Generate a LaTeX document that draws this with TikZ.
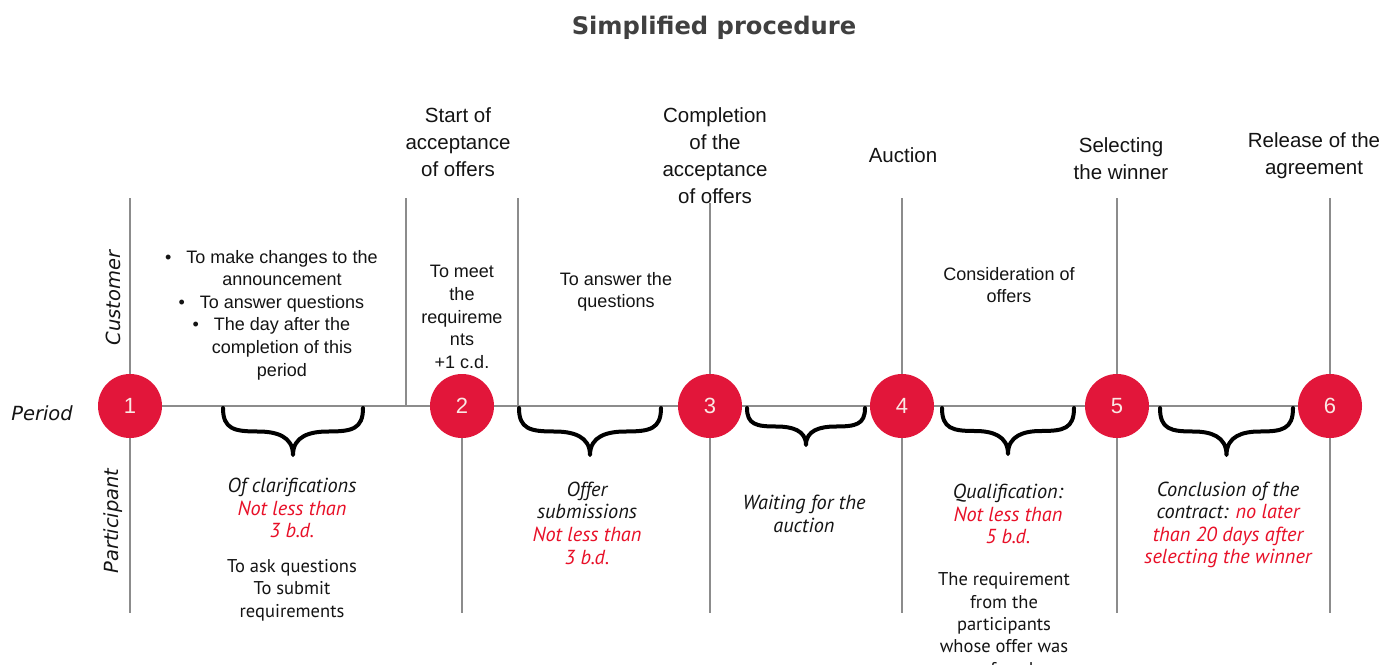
\documentclass[tikz,border=0pt]{standalone}
\usepackage{fontspec}
\setmainfont{Liberation Sans}
\newfontfamily\titlef{DejaVu Sans}
\newfontfamily\lowf{PT Sans}
\newfontfamily\labf{DejaVu Sans}
\definecolor{circred}{RGB}{226,22,58}
\definecolor{txtred}{RGB}{232,16,40}
\definecolor{linegray}{RGB}{140,140,140}
\definecolor{numcol}{RGB}{250,232,228}
\definecolor{titlecol}{RGB}{64,64,64}
\definecolor{txt}{RGB}{20,20,20}
\newcommand\drawbrace[4]{%
  \pgfmathsetmacro\ba{#1}\pgfmathsetmacro\bb{#2}%
  \pgfmathsetmacro\bc{(#1+#2)/2}%
  \pgfmathsetmacro\bw{#2-#1}%
  \pgfmathsetmacro\bd{#4-#3}%
  \pgfmathsetmacro\bm{#3+0.5*\bd}%
  \draw[bracestyle] (\ba,#3) .. controls (\ba,#3+0.45*\bd) and (\ba+0.08*\bw,\bm) .. (\ba+0.25*\bw,\bm)
    .. controls (\bc-0.12*\bw,\bm) and (\bc,#3+0.6*\bd) .. (\bc,#4)
    .. controls (\bc,#3+0.6*\bd) and (\bc+0.12*\bw,\bm) .. (\bb-0.25*\bw,\bm)
    .. controls (\bb-0.08*\bw,\bm) and (\bb,#3+0.45*\bd) .. (\bb,#3);%
}
\begin{document}
\begin{tikzpicture}[x=1pt,y=-1pt,
  circ/.style={circle,fill=circred,minimum size=64pt,inner sep=0pt,text=numcol,font=\fontsize{22}{22}\selectfont},
  vline/.style={draw=linegray,line width=1.3pt},
  hline/.style={draw=linegray,line width=2pt},
  bracestyle/.style={draw=black,line width=4pt,line cap=round,line join=round},
  head/.style={align=center,text=txt,font=\fontsize{20.5}{27}\selectfont},
  cust/.style={align=center,text=txt,font=\fontsize{18}{22.6}\selectfont},
  part/.style={align=center,text=txt,font=\lowf\itshape\fontsize{20.3}{22.6}\selectfont},
  partup/.style={align=center,text=txt,font=\lowf\fontsize{18.5}{22.4}\selectfont},
  side/.style={text=txt,font=\labf\itshape\fontsize{19.5}{20}\selectfont}]
\useasboundingbox (0,0) rectangle (1397,664);
\fill[white] (0,0) rectangle (1397,664);

% anchor points
\coordinate (p1) at (130,406);
\coordinate (p2) at (462,406);
\coordinate (p3) at (710,406);
\coordinate (p4) at (902,406);
\coordinate (p5) at (1117,406);
\coordinate (p6) at (1330,406);
\coordinate (t1) at (130,198);
\coordinate (b1) at (130,613);
\coordinate (ta) at (406,198);
\coordinate (ha) at (406,406);
\coordinate (tb) at (518,198);
\coordinate (hb) at (518,406);
\coordinate (b2) at (462,613);
\coordinate (t3) at (710,203);
\coordinate (b3) at (710,613);
\coordinate (t4) at (902,198);
\coordinate (b4) at (902,613);
\coordinate (t5) at (1117,198);
\coordinate (b5) at (1117,613);
\coordinate (t6) at (1330,198);
\coordinate (b6) at (1330,613);

% lines
\draw[hline] (p1) -- (p6);
\draw[vline] (t1) -- (b1);
\draw[vline] (ta) -- (ha);
\draw[vline] (tb) -- (hb);
\draw[vline] (p2) -- (b2);
\draw[vline] (t3) -- (b3);
\draw[vline] (t4) -- (b4);
\draw[vline] (t5) -- (b5);
\draw[vline] (t6) -- (b6);

% circles
\node[circ] (c1) at (p1) {1};
\node[circ] (c2) at (p2) {2};
\node[circ] (c3) at (p3) {3};
\node[circ] (c4) at (p4) {4};
\node[circ] (c5) at (p5) {5};
\node[circ] (c6) at (p6) {6};

% braces
\drawbrace{223}{363}{408}{455}
\drawbrace{519}{661}{408}{455}
\drawbrace{747}{865}{408}{445}
\drawbrace{942}{1074}{408}{454}
\drawbrace{1160}{1293}{408}{455}

% title and side labels
\node[text=titlecol,font=\titlef\bfseries\fontsize{24.2}{26}\selectfont] (title) at (714,28) {Simplified procedure};
\node[side] (period) at (42,413) {Period};
\node[side,rotate=90] (customer) at (113,298) {Customer};
\node[side,rotate=90] (participant) at (113,521) {Participant};

% headers
\node[head] (h2) at (458,142) {Start of\\acceptance\\of offers};
\node[head] (h3) at (715,156) {Completion\\of the\\acceptance\\of offers};
\node[head] (h4) at (903,155) {Auction};
\node[head] (h5) at (1121,159) {Selecting\\the winner};
\node[head] (h6) at (1314,156) {Release of the\\agreement};

% customer row
\node[cust] (k1) at (282,315) {\llap{\textbullet\hspace{15pt}}To make changes to the\\announcement\\\llap{\textbullet\hspace{15pt}}To answer questions\\\llap{\textbullet\hspace{15pt}}The day after the\\completion of this\\period};
\node[cust] (k2) at (462,317) {To meet\\the\\requireme\\nts\\+1 c.d.};
\node[cust] (k3) at (616,292) {To answer the\\questions};
\node[cust] (k4) at (1009,285) {Consideration of\\offers};

% participant row
\node[part] (q1) at (292,508) {Of clarifications\\\textcolor{txtred}{Not less than}\\\textcolor{txtred}{3 b.d.}};
\node[partup] (q1b) at (292,590) {To ask questions\\To submit\\requirements};
\node[part] (q2) at (587,523) {Offer\\submissions\\\textcolor{txtred}{Not less than}\\\textcolor{txtred}{3 b.d.}};
\node[part] (q3) at (804,514) {Waiting for the\\auction};
\node[part] (q4) at (1008,514) {Qualification:\\\textcolor{txtred}{Not less than}\\\textcolor{txtred}{5 b.d.}};
\node[partup,anchor=north] (q4b) at (1004,569) {The requirement\\from the\\participants\\whose offer was\\refused};
\node[part] (q5) at (1228,525) {Conclusion of the\\contract: \textcolor{txtred}{no later}\\\textcolor{txtred}{than 20 days after}\\\textcolor{txtred}{selecting the winner}};
\end{tikzpicture}
\end{document}
